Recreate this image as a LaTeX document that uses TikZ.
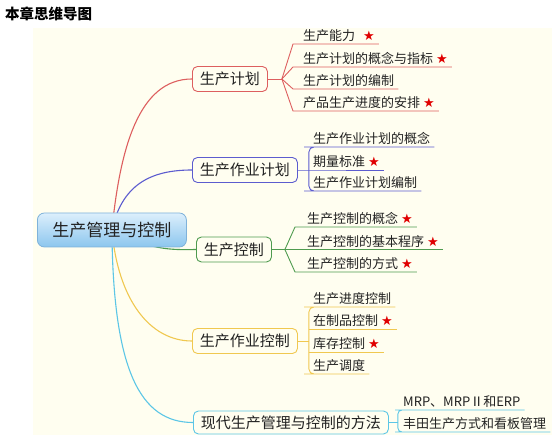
\documentclass[tikz,border=0pt]{standalone}
\usepackage{fontspec}
\setmainfont{Noto Sans CJK SC}
\newfontfamily\symfont{DejaVu Sans}
\usetikzlibrary{positioning, backgrounds}
\definecolor{mapbg}{HTML}{FFFEF0}
\definecolor{inkdark}{HTML}{222222}
\definecolor{planred}{HTML}{DD5F5F}
\definecolor{jobblue}{HTML}{5C5CCF}
\definecolor{ctrlgreen}{HTML}{4F9B4F}
\definecolor{opyellow}{HTML}{F0C850}
\definecolor{modcyan}{HTML}{5CC6E6}
\definecolor{rootedge}{HTML}{7FB2DA}
\definecolor{roottop}{HTML}{DCEFFC}
\definecolor{rootbot}{HTML}{8CC6EE}
\definecolor{starred}{HTML}{E00000}
\newcommand{\keymark}{{\symfont\textcolor{starred}{★}}}

\begin{document}
\begin{tikzpicture}[
    x=1pt, y=-1pt,
    % ── shared styles ──
    map title/.style={anchor=west, inner sep=0pt, text=black,
        font=\fontsize{14.5}{16}\selectfont\bfseries},
    root topic/.style={draw=rootedge, line width=0.8pt, rounded corners=7pt,
        top color=roottop, bottom color=rootbot, anchor=west,
        minimum height=34pt, inner xsep=15pt, text=inkdark,
        font=\fontsize{17}{19}\selectfont},
    branch box/.style={draw=#1, line width=0.9pt, rounded corners=5pt,
        fill=mapbg, anchor=west, minimum height=25pt, inner xsep=7.5pt,
        text=inkdark, font=\fontsize{15}{17}\selectfont},
    leaf item/.style={anchor=south west, inner xsep=4pt, inner ysep=2pt,
        text=inkdark, font=\fontsize{13}{15}\selectfont},
    topic link/.style={draw=#1, line width=1.1pt},
    leaf link/.style={draw=#1, line width=0.9pt},
]
\useasboundingbox (0,0) rectangle (559,446);

% ══════════════════════════════════════════════════════════════════════
%  TITLE + ROOT
% ══════════════════════════════════════════════════════════════════════
\node[map title] (title) at (5,14) {本章思维导图};
\node[root topic] (root) at (37,230) {生产管理与控制};

% ══════════════════════════════════════════════════════════════════════
%  MAIN TOPICS
% ══════════════════════════════════════════════════════════════════════
\node[branch box=planred]   (plan)  at (192,79)    {生产计划};
\node[branch box=jobblue]   (job)   at (192,170)   {生产作业计划};
\node[branch box=ctrlgreen] (ctrl)  at (196,249.5) {生产控制};
\node[branch box=opyellow]  (oper)  at (192,341)   {生产作业控制};
\node[branch box=modcyan, minimum height=23pt] (modern) at (193,422.5)
    {现代生产管理与控制的方法};

% ── 生产计划 ──
\node[leaf item] (plan1) at (299,44)  {生产能力\hspace{5pt} \keymark};
\node[leaf item] (plan2) at (299,67)  {生产计划的概念与指标 \keymark};
\node[leaf item] (plan3) at (299,89)  {生产计划的编制};
\node[leaf item] (plan4) at (299,111) {产品生产进度的安排 \keymark};

% ── 生产作业计划 ──
\node[leaf item] (job1) at (309,147) {生产作业计划的概念};
\node[leaf item] (job2) at (309,170) {期量标准 \keymark};
\node[leaf item] (job3) at (309,191) {生产作业计划编制};

% ── 生产控制 ──
\node[leaf item] (ctrl1) at (303,227)   {生产控制的概念 \keymark};
\node[leaf item] (ctrl2) at (303,249.5) {生产控制的基本程序 \keymark};
\node[leaf item] (ctrl3) at (303,272)   {生产控制的方式 \keymark};

% ── 生产作业控制 ──
\node[leaf item] (oper1) at (309,307) {生产进度控制};
\node[leaf item] (oper2) at (309,329) {在制品控制 \keymark};
\node[leaf item] (oper3) at (309,352) {库存控制 \keymark};
\node[leaf item] (oper4) at (309,374) {生产调度};

% ── 现代方法 ──
\node[leaf item] (modern1) at (399,410) {MRP、MRPⅡ和ERP};
\node[leaf item] (modern2) at (399,432) {丰田生产方式和看板管理};

% ══════════════════════════════════════════════════════════════════════
%  JUNCTIONS + LEAF BRACKETS
% ══════════════════════════════════════════════════════════════════════
\coordinate (jplan)   at ([xshift=14pt]plan.east);
\coordinate (jjob)    at ([xshift=11pt]job.east);
\coordinate (jctrl)   at ([xshift=13pt]ctrl.east);
\coordinate (joper)   at ([xshift=11pt]oper.east);
\coordinate (jmodern) at ([xshift=9pt]modern.east);

\draw[leaf link=planred] (plan.east) -- (jplan);
\foreach \c in {plan1,plan2,plan3,plan4}
  \draw[leaf link=planred] (jplan) -- ([xshift=-6pt]\c.south west) -- (\c.south east);

\draw[leaf link=jobblue] (job.east) -- (job2.south west) -- (job2.south east);
\draw[leaf link=jobblue, rounded corners=5pt] (job1.south east) -- (job1.south west)
    -| (jjob) |- (job3.south west) -- (job3.south east);

\draw[leaf link=ctrlgreen] (ctrl.east) -- (ctrl2.south east);
\foreach \c in {ctrl1,ctrl3}
  \draw[leaf link=ctrlgreen] (jctrl) -- ([xshift=-8pt]\c.south west) -- (\c.south east);

\draw[leaf link=opyellow] (oper.east) -- (joper);
\draw[leaf link=opyellow, rounded corners=5pt] (oper1.south east) -- (oper1.south west)
    -| (joper) |- (oper4.south west) -- (oper4.south east);
\foreach \c in {oper2,oper3}
  \draw[leaf link=opyellow] (joper |- \c.south west) -- (\c.south east);

\draw[leaf link=modcyan] (modern.east) -- (jmodern);
\draw[leaf link=modcyan, rounded corners=4pt] (modern1.south east) -- (modern1.south west)
    -| (jmodern) |- (modern2.south west) -- (modern2.south east);

% ══════════════════════════════════════════════════════════════════════
%  CANVAS + TOPIC CURVES (behind the root)
% ══════════════════════════════════════════════════════════════════════
\begin{scope}[on background layer]
  \fill[mapbg] (33,28) rectangle (552,435);
  \draw[topic link=planred]   (root.center) .. controls (120,150) and (138,79)  .. (plan.west);
  \draw[topic link=jobblue]   (root.center) .. controls (122,185) and (150,170) .. (job.west);
  \draw[topic link=ctrlgreen] (root.center) .. controls (150,250) and (170,250) .. (ctrl.west);
  \draw[topic link=opyellow]  (root.center) .. controls (118,300) and (150,341) .. (oper.west);
  \draw[topic link=modcyan]   (root.center) .. controls (113,370) and (140,422.5) .. (modern.west);
\end{scope}

\end{tikzpicture}
\end{document}
